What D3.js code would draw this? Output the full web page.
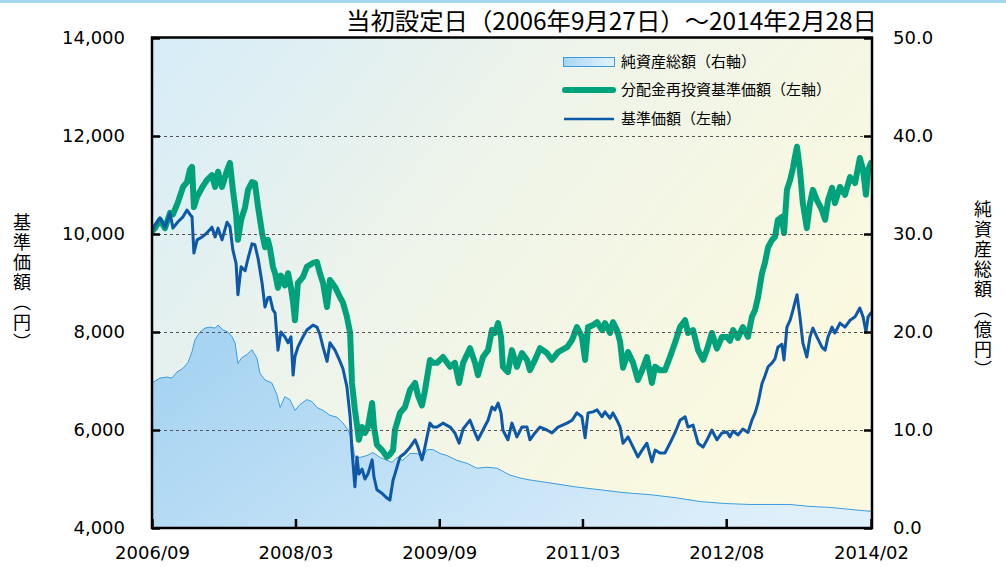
<!DOCTYPE html>
<html><head><meta charset="utf-8">
<script src="https://cdn.jsdelivr.net/npm/d3@7"></script>
<style>
html,body{margin:0;padding:0;background:#fff;}
svg{display:block;}
.tick text{font-family:"DejaVu Sans",Verdana,sans-serif;}
</style></head><body>
<svg id="chart" width="1006" height="567"></svg>
<script>
// ---------- data ----------
const navDates = ["2006-09-27","2006-10-08","2006-10-27","2006-11-15","2006-12-04","2006-12-15","2007-01-03","2007-01-22","2007-02-06","2007-02-17","2007-02-25","2007-03-04","2007-03-16","2007-04-04","2007-04-22","2007-05-11","2007-05-23","2007-06-03","2007-06-18","2007-07-07","2007-07-18","2007-07-29","2007-08-10","2007-08-17","2007-08-29","2007-09-13","2007-09-24","2007-10-09","2007-10-20","2007-11-01","2007-11-16","2007-11-27","2007-12-08","2007-12-16","2007-12-27","2008-01-04","2008-01-15","2008-01-26","2008-02-10","2008-02-22","2008-03-04","2008-03-12","2008-03-19","2008-03-30","2008-04-18","2008-05-03","2008-05-26","2008-06-10","2008-06-21","2008-07-03","2008-07-18","2008-07-29","2008-08-17","2008-09-05","2008-09-16","2008-10-01","2008-10-13","2008-10-20","2008-10-31","2008-11-08","2008-11-15","2008-11-27","2008-12-08","2008-12-19","2009-01-04","2009-01-11","2009-01-22","2009-02-10","2009-03-01","2009-03-12","2009-03-24","2009-03-31","2009-04-19","2009-05-08","2009-05-27","2009-06-15","2009-06-26","2009-07-11","2009-07-22","2009-08-10","2009-08-22","2009-09-06","2009-09-28","2009-10-25","2009-11-12","2009-11-28","2009-12-13","2010-01-08","2010-01-27","2010-02-07","2010-02-26","2010-03-17","2010-04-01","2010-04-12","2010-04-24","2010-05-05","2010-05-12","2010-05-31","2010-06-15","2010-07-04","2010-07-23","2010-08-11","2010-08-22","2010-09-10","2010-09-29","2010-10-25","2010-11-13","2010-12-06","2011-01-09","2011-01-28","2011-02-15","2011-03-06","2011-03-18","2011-03-29","2011-04-17","2011-05-02","2011-05-21","2011-06-01","2011-06-20","2011-07-01","2011-07-16","2011-07-28","2011-08-08","2011-08-27","2011-09-15","2011-10-03","2011-10-19","2011-11-06","2011-11-25","2011-12-07","2011-12-25","2012-01-13","2012-02-01","2012-02-20","2012-03-10","2012-03-29","2012-04-09","2012-04-28","2012-05-17","2012-06-05","2012-06-20","2012-07-08","2012-07-27","2012-08-15","2012-09-03","2012-09-14","2012-09-26","2012-10-14","2012-11-02","2012-11-21","2012-12-06","2012-12-18","2012-12-29","2013-01-13","2013-01-24","2013-02-05","2013-02-20","2013-03-03","2013-03-14","2013-03-29","2013-04-06","2013-04-17","2013-04-29","2013-05-10","2013-05-17","2013-05-25","2013-06-05","2013-06-16","2013-07-01","2013-07-13","2013-07-24","2013-08-08","2013-08-27","2013-09-08","2013-09-19","2013-10-04","2013-10-15","2013-11-03","2013-11-22","2013-12-11","2013-12-30","2014-01-17","2014-01-29","2014-02-09","2014-02-17","2014-02-28"];

// 基準価額 (left axis, yen)
const navValues = [10050,10180,10330,10140,10430,10120,10250,10350,10490,10400,10350,9610,9880,9940,10020,10140,9940,10120,9880,10240,10150,9670,9400,8760,9330,9250,9500,9800,9780,9500,9000,8510,8700,8710,8450,8390,7630,8000,7900,7780,7900,7120,7500,7690,7900,8040,8140,8100,7950,7690,7400,7780,7630,7400,7250,6880,6270,5590,4840,5450,5100,5200,5000,5100,5390,5040,4780,4710,4610,4570,4980,5100,5450,5530,5650,5800,5650,5390,5650,6140,6060,6060,6140,6060,5940,5730,6020,6200,5940,5800,6000,6200,6470,6410,6550,6350,6000,5800,6140,5860,6060,6060,5800,5940,6060,6000,5940,6060,6140,6200,6350,6270,5840,6350,6370,6410,6270,6370,6240,6350,6200,6060,5730,5860,5650,5450,5590,5730,5350,5590,5530,5530,5730,5940,6200,6270,6060,6100,5730,5650,5800,6000,5800,5940,5960,5860,5980,5900,6020,5950,6200,6350,6550,6950,7100,7290,7370,7450,7690,7750,7430,8100,8240,8450,8600,8760,8310,7780,7490,7900,8080,7900,7690,7630,7900,8100,7980,8180,8100,8240,8310,8490,8310,8000,8310,8390];

// 分配金再投資基準価額 (left axis, yen)
const reinvestedValues = [10050,10120,10290,10120,10430,10400,10650,10960,11060,11310,11370,10550,10760,10950,11100,11200,10960,11270,10960,11300,11450,10900,10400,9880,10290,10550,10900,11060,11040,10550,10020,9730,9880,9700,9330,9200,8900,9150,8950,9200,8900,8600,8240,9000,9120,9330,9410,9430,9200,9000,8510,9060,8920,8710,8600,8310,7980,6960,6410,6100,5800,6060,5940,6060,6550,6060,5700,5590,5450,5500,5590,6000,6350,6470,6820,6960,6700,6500,6800,7430,7370,7370,7490,7290,7370,6960,7370,7670,7370,7120,7490,7630,8040,7980,8180,7900,7290,7180,7630,7290,7570,7430,7220,7430,7670,7570,7430,7590,7690,7840,8100,7900,7430,8100,8140,8200,8040,8180,7980,8200,8040,7800,7270,7590,7370,7020,7220,7490,6960,7290,7220,7220,7490,7780,8100,8240,7980,8040,7630,7430,7650,7980,7660,7900,7900,7820,8040,7880,8100,7900,8310,8450,8710,9200,9410,9730,9880,9940,10290,10350,10020,10900,11100,11350,11570,11780,11310,10630,10120,10630,10900,10690,10490,10290,10690,10940,10630,10960,10800,11160,11040,11550,11310,10800,11310,11450];

// 純資産総額 (right axis, 億円)
const assetDates = ["2006-09-27","2006-10-27","2006-11-23","2006-12-11","2006-12-30","2007-01-22","2007-02-10","2007-02-25","2007-03-08","2007-03-27","2007-04-15","2007-05-04","2007-05-23","2007-06-03","2007-06-22","2007-07-11","2007-07-26","2007-08-06","2007-08-17","2007-09-01","2007-09-20","2007-10-09","2007-10-28","2007-11-08","2007-11-27","2007-12-23","2008-01-11","2008-01-23","2008-02-10","2008-02-29","2008-03-19","2008-04-07","2008-05-03","2008-05-22","2008-06-10","2008-07-03","2008-07-29","2008-08-25","2008-09-16","2008-10-05","2008-10-20","2008-10-31","2008-11-19","2008-12-16","2009-01-07","2009-02-03","2009-03-01","2009-03-20","2009-04-08","2009-04-30","2009-05-27","2009-06-22","2009-07-15","2009-07-30","2009-08-22","2009-09-17","2009-10-13","2009-11-20","2009-12-28","2010-02-03","2010-03-13","2010-04-20","2010-06-08","2010-07-16","2010-08-22","2010-11-06","2011-02-09","2011-05-13","2011-08-15","2011-11-18","2012-02-20","2012-05-24","2012-08-26","2012-11-29","2013-02-12","2013-04-29","2013-07-13","2013-09-26","2013-12-11","2014-02-28"];
const assetValues = [14.8,15.3,15.4,15.3,15.9,16.3,16.9,18.0,19.2,20.0,20.4,20.5,20.4,20.7,20.2,20.0,19.5,18.9,16.8,17.4,17.7,18.2,17.3,15.8,15.1,14.8,13.6,12.3,13.4,13.1,12.0,12.6,13.1,12.9,12.3,12.0,11.5,11.3,10.7,10.0,9.0,7.2,7.2,7.4,7.7,7.2,6.9,6.7,7.2,6.9,7.6,7.6,7.2,8.0,8.0,7.6,7.4,6.9,6.6,6.1,6.2,6.1,5.4,5.1,4.9,4.6,4.2,3.9,3.6,3.4,3.1,2.7,2.5,2.4,2.4,2.4,2.2,2.1,1.9,1.7];

const leftTicks = [4000, 6000, 8000, 10000, 12000, 14000];
const gridTicks = [6000, 8000, 10000, 12000];
const rightTicks = [0, 10, 20, 30, 40, 50];
const xTickDates = ["2006-09-27","2008-03-21","2009-09-14","2011-03-08","2012-08-31","2014-02-28"];
const xTickLabels = ["2006/09","2008/03","2009/09","2011/03","2012/08","2014/02"];
const titleText = "当初設定日（2006年9月27日）～2014年2月28日";
const legendLabels = ["純資産総額（右軸）", "分配金再投資基準価額（左軸）", "基準価額（左軸）"];
const leftAxisTitle = "基準価額（円）";
const rightAxisTitle = "純資産総額（億円）";

// ---------- drawing ----------
const parse = d3.timeParse("%Y-%m-%d");
const P = {left: 152, right: 872, top: 38, bottom: 528};
const CJK = '"Noto Sans CJK JP","Noto Sans CJK SC",sans-serif';

const x = d3.scaleTime().domain([parse("2006-09-27"), parse("2014-02-28")]).range([P.left, P.right - 1]);
const y = d3.scaleLinear().domain([4000, 14000]).range([P.bottom, P.top]);
const yR = d3.scaleLinear().domain([0, 50]).range([P.bottom, P.top]);

const nav = navDates.map((d, i) => ({date: parse(d), v: navValues[i], r: reinvestedValues[i]}));
const assets = assetDates.map((d, i) => ({date: parse(d), v: assetValues[i]}));

const svg = d3.select("#chart");
const defs = svg.append("defs");

const bg = defs.append("linearGradient").attr("id", "bgGrad")
  .attr("x1", 0).attr("y1", 0).attr("x2", 1).attr("y2", 0.55);
bg.append("stop").attr("offset", 0).attr("stop-color", "#d6ecf8");
bg.append("stop").attr("offset", 0.45).attr("stop-color", "#eef4ea");
bg.append("stop").attr("offset", 1).attr("stop-color", "#fbf9df");

const ag = defs.append("linearGradient").attr("id", "areaGrad")
  .attr("x1", 0).attr("y1", 0.3).attr("x2", 1).attr("y2", 0.7);
ag.append("stop").attr("offset", 0).attr("stop-color", "#a7d4f2");
ag.append("stop").attr("offset", 1).attr("stop-color", "#e0f0fb");

const lg = defs.append("linearGradient").attr("id", "legGrad")
  .attr("x1", 0).attr("y1", 0).attr("x2", 1).attr("y2", 0);
lg.append("stop").attr("offset", 0).attr("stop-color", "#a9d6f4");
lg.append("stop").attr("offset", 1).attr("stop-color", "#e4f3fc");

defs.append("clipPath").attr("id", "plotClip").append("rect")
  .attr("x", P.left).attr("y", P.top).attr("width", P.right - P.left).attr("height", P.bottom - P.top);

// top light-blue band
svg.append("rect").attr("x", 0).attr("y", 0).attr("width", 1006).attr("height", 3).attr("fill", "#a3d5f0");

// plot background
svg.append("rect").attr("x", P.left).attr("y", P.top)
  .attr("width", P.right - P.left).attr("height", P.bottom - P.top).attr("fill", "url(#bgGrad)");

const plot = svg.append("g").attr("clip-path", "url(#plotClip)");

// net assets area
plot.append("path").datum(assets)
  .attr("fill", "url(#areaGrad)")
  .attr("d", d3.area().x(d => x(d.date)).y0(P.bottom).y1(d => yR(d.v)));
plot.append("path").datum(assets)
  .attr("fill", "none").attr("stroke", "#3b9de0").attr("stroke-width", 1)
  .attr("d", d3.line().x(d => x(d.date)).y(d => yR(d.v)));

// gridlines
svg.append("g").attr("transform", `translate(${P.left},0)`)
  .call(d3.axisLeft(y).tickValues(gridTicks).tickSize(-(P.right - P.left)).tickFormat(""))
  .call(g => g.select(".domain").remove())
  .call(g => g.selectAll("line").attr("stroke", "#555").attr("stroke-width", 1).attr("stroke-dasharray", "3,3"));

// reinvested NAV (green) and NAV (blue)
plot.append("path").datum(nav)
  .attr("fill", "none").attr("stroke", "#00a27b").attr("stroke-width", 6)
  .attr("stroke-linejoin", "round").attr("stroke-linecap", "round")
  .attr("d", d3.line().x(d => x(d.date)).y(d => y(d.r)));
plot.append("path").datum(nav)
  .attr("fill", "none").attr("stroke", "#0d59a8").attr("stroke-width", 3)
  .attr("stroke-linejoin", "round").attr("stroke-linecap", "round")
  .attr("d", d3.line().x(d => x(d.date)).y(d => y(d.v)));

// axes
function styleAxis(g) {
  g.select(".domain").remove();
  g.selectAll(".tick line").attr("stroke", "#000").attr("stroke-width", 2.5);
  g.selectAll(".tick text").attr("fill", "#000").attr("font-size", "18px");
}
svg.append("g").attr("transform", `translate(${P.left},0)`)
  .call(d3.axisLeft(y).tickValues(leftTicks).tickSize(-8).tickPadding(27).tickFormat(d3.format(",")))
  .call(styleAxis);
svg.append("g").attr("transform", `translate(${P.right},0)`)
  .call(d3.axisRight(yR).tickValues(rightTicks).tickSize(-8).tickPadding(21).tickFormat(d3.format(".1f")))
  .call(styleAxis);
svg.append("g").attr("transform", `translate(0,${P.bottom})`)
  .call(d3.axisBottom(x).tickValues(xTickDates.map(parse)).tickSize(-9).tickPadding(18)
    .tickFormat((d, i) => xTickLabels[i]))
  .call(styleAxis);

// frame
svg.append("rect").attr("x", P.left).attr("y", P.top - 0.5)
  .attr("width", P.right - P.left).attr("height", P.bottom - P.top + 0.5)
  .attr("fill", "none").attr("stroke", "#000").attr("stroke-width", 2.5);

// title
svg.append("text").attr("x", 877).attr("y", 30).attr("text-anchor", "end")
  .attr("font-family", CJK).attr("font-size", "24px").attr("fill", "#000")
  .attr("textLength", 531).attr("lengthAdjust", "spacingAndGlyphs")
  .text(titleText);

// axis titles (vertical)
function vTitle(txt, cx, top) {
  svg.append("text").attr("x", cx).attr("y", top)
    .attr("font-family", CJK).attr("font-size", "18px").attr("fill", "#000")
    .style("writing-mode", "vertical-rl").style("letter-spacing", "2px")
    .text(txt);
}
vTitle(leftAxisTitle, 22, 213);
vTitle(rightAxisTitle, 983, 200);

// legend
const leg = svg.append("g");
const legY = [62, 90, 119];
leg.append("rect").attr("x", 563.5).attr("y", legY[0] - 4.5).attr("width", 51).attr("height", 9)
  .attr("fill", "url(#legGrad)").attr("stroke", "#3b9de0").attr("stroke-width", 1);
leg.append("line").attr("x1", 565).attr("x2", 613).attr("y1", legY[1]).attr("y2", legY[1])
  .attr("stroke", "#00a27b").attr("stroke-width", 6).attr("stroke-linecap", "round");
leg.append("line").attr("x1", 564).attr("x2", 614).attr("y1", legY[2]).attr("y2", legY[2])
  .attr("stroke", "#0d59a8").attr("stroke-width", 2.5);
legendLabels.forEach((t, i) => {
  leg.append("text").attr("x", 621).attr("y", legY[i]).attr("dy", "0.36em")
    .attr("font-family", CJK).attr("font-size", "15px").attr("fill", "#000").text(t);
});
</script>
</body></html>
